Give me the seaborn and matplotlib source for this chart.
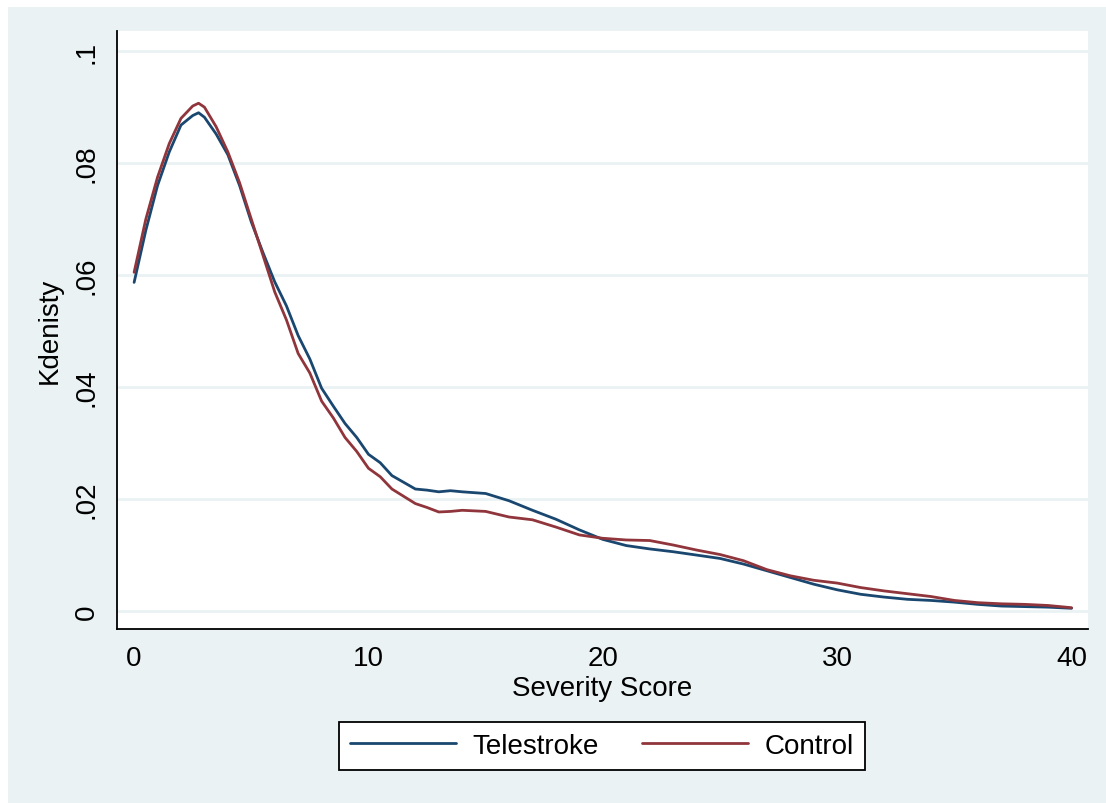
import numpy as np
import pandas as pd
import seaborn as sns
import matplotlib.pyplot as plt
from matplotlib.patches import Rectangle

# severity score grid and kernel density estimates
score = [0, 0.5, 1, 1.5, 2, 2.5, 2.75, 3, 3.5, 4, 4.5, 5, 5.5, 6, 6.5, 7, 7.5,
         8, 8.5, 9, 9.5, 10, 10.5, 11, 11.5, 12, 12.5, 13, 13.5, 14, 15, 16,
         17, 18, 19, 20, 21, 22, 23, 24, 25, 26, 27, 28, 29, 30, 31, 32, 33,
         34, 35, 36, 37, 38, 39, 40]

telestroke = [0.0587, 0.0680, 0.0760, 0.0820, 0.0868, 0.0885, 0.0890, 0.0882,
              0.0852, 0.0815, 0.0760, 0.0695, 0.0640, 0.0588, 0.0545, 0.0492,
              0.0450, 0.0398, 0.0366, 0.0335, 0.0310, 0.0280, 0.0265, 0.0242,
              0.0230, 0.0218, 0.0216, 0.0213, 0.0215, 0.0213, 0.0210, 0.0197,
              0.0180, 0.0164, 0.0145, 0.0128, 0.0117, 0.0111, 0.0106, 0.0100,
              0.0094, 0.0084, 0.0072, 0.0060, 0.0048, 0.0038, 0.0030, 0.0025,
              0.0021, 0.0019, 0.0016, 0.0012, 0.0009, 0.0008, 0.0007, 0.0005]

control = [0.0605, 0.0700, 0.0775, 0.0835, 0.0880, 0.0902, 0.0907, 0.0900,
           0.0865, 0.0820, 0.0765, 0.0700, 0.0635, 0.0570, 0.0520, 0.0460,
           0.0425, 0.0375, 0.0345, 0.0310, 0.0285, 0.0255, 0.0240, 0.0218,
           0.0205, 0.0192, 0.0185, 0.0177, 0.0178, 0.0180, 0.0178, 0.0168,
           0.0163, 0.0150, 0.0136, 0.0130, 0.0127, 0.0126, 0.0118, 0.0109,
           0.0101, 0.0090, 0.0074, 0.0063, 0.0055, 0.0050, 0.0042, 0.0036,
           0.0031, 0.0026, 0.0019, 0.0015, 0.0013, 0.0012, 0.0010, 0.0006]

y_ticks = [0, 0.02, 0.04, 0.06, 0.08, 0.1]
y_tick_labels = ['0', '.02', '.04', '.06', '.08', '.1']
x_ticks = [0, 10, 20, 30, 40]

df = pd.concat([
    pd.DataFrame({'score': score, 'density': telestroke, 'group': 'Telestroke'}),
    pd.DataFrame({'score': score, 'density': control, 'group': 'Control'}),
])

sns.set_theme(style='white')
plt.rcParams['font.family'] = ['Liberation Sans', 'DejaVu Sans']

bg = '#EAF2F3'
fig = plt.figure(figsize=(11.06, 8.04), dpi=100, facecolor='white')
# light outer region, leaving the thin white strip at top and left
fig.patches.append(Rectangle((8 / 1106, 0), 1, 1 - 8 / 804, transform=fig.transFigure,
                             facecolor=bg, edgecolor='none', zorder=-10))
ax = fig.add_axes([117 / 1106, 1 - 630 / 804, (1088 - 117) / 1106, (630 - 32) / 804])
ax.set_facecolor('white')

sns.lineplot(data=df, x='score', y='density', hue='group', ax=ax,
             palette={'Telestroke': '#1a476f', 'Control': '#90353b'},
             linewidth=2.0, legend=False, sort=False)

ax.set_xlim(-0.73, 40.7)
ax.set_ylim(-0.0032, 0.1036)
ax.set_yticks(y_ticks)
ax.set_yticklabels(y_tick_labels, rotation=90, va='center')
ax.set_xticks(x_ticks)
ax.grid(axis='y', color=bg, linewidth=2.0)
ax.grid(axis='x', visible=False)
ax.set_axisbelow(True)

for side in ['top', 'right']:
    ax.spines[side].set_visible(False)
for side in ['left', 'bottom']:
    ax.spines[side].set_color('black')
    ax.spines[side].set_linewidth(1.3)

ax.tick_params(axis='both', direction='out', length=8.5, width=1.3, color='black',
               labelsize=20, labelcolor='black')
ax.tick_params(axis='x', pad=3)
ax.tick_params(axis='y', pad=4)
ax.set_xlabel('Severity Score', fontsize=20, color='black', labelpad=3)
ax.set_ylabel('Kdenisty', fontsize=20, color='black', labelpad=8)

handles = [plt.Line2D([], [], color='#1a476f', linewidth=2.0),
           plt.Line2D([], [], color='#90353b', linewidth=2.0)]
leg = fig.legend(handles, ['Telestroke', 'Control'], loc='center', ncol=2,
                 bbox_to_anchor=(602 / 1106, 1 - 747 / 804), fontsize=20,
                 frameon=True, fancybox=False, edgecolor='black', facecolor='white',
                 framealpha=1, labelcolor='black',
                 handlelength=3.8, handletextpad=0.6, columnspacing=1.55,
                 borderpad=0.4, borderaxespad=0)
leg.get_frame().set_linewidth(1.3)

fig.savefig('out.png', dpi=100, facecolor=fig.get_facecolor())
